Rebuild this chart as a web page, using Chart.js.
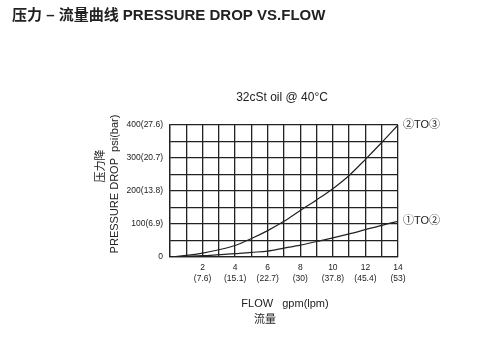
<!DOCTYPE html>
<html>
<head>
<meta charset="utf-8">
<script src="https://cdn.jsdelivr.net/npm/chart.js@4"></script>
<style>
html, body { margin: 0; padding: 0; background: #fff; }
#wrap { width: 488px; height: 354px; position: relative; }
</style>
</head>
<body>
<div id="wrap"><canvas id="myChart"></canvas></div>
<script>
// flow in gpm
var flowGpm = [0,1,2,3,4,5,6,7,8,9,10,11,12,13,14];
// pressure drop in psi
var psi2to3 = [0,5,12,22,35,56,80,108,141,173,207,247,296,347,400];
var psi1to2 = [0,2,4,7,10,14,18,27,36,47,58,70,83,96,108];
// tick labels
var xTickLpm = {2:"(7.6)", 4:"(15.1)", 6:"(22.7)", 8:"(30)", 10:"(37.8)", 12:"(45.4)", 14:"(53)"};
var yTickBar = {0:"", 100:"(6.9)", 200:"(13.8)", 300:"(20.7)", 400:"(27.6)"};
var seriesNames = ["\u2461TO\u2462", "\u2460TO\u2461"];

var FONT = "'Liberation Sans', Arial, 'Noto Sans CJK SC', sans-serif";
var INK = "#222";

function toPoints(ys) {
    var pts = [];
    for (var i = 0; i < flowGpm.length; i++) pts.push({x: flowGpm[i], y: ys[i]});
    return pts;
}

// all the loose text around the plot
var textPlugin = {
    id: 'texts',
    afterDraw: function(chart) {
        var c = chart.ctx;
        c.save();
        c.fillStyle = INK;
        c.textBaseline = 'middle';

        c.font = "bold 15px " + FONT;
        c.textAlign = 'left';
        c.fillText("压力 – 流量曲线 PRESSURE DROP VS.FLOW", 12, 16);

        c.font = "12px " + FONT;
        c.textAlign = 'center';
        c.fillText("32cSt oil @ 40°C", 282, 98);

        c.font = "11px " + FONT;
        c.fillText("FLOW   gpm(lpm)", 285, 304);
        c.fillText("流量", 265, 320);

        // y axis titles, rotated
        c.save();
        c.translate(101, 166);
        c.rotate(-Math.PI / 2);
        c.fillText("压力降", 0, 0);
        c.restore();
        c.save();
        c.translate(115, 184);
        c.rotate(-Math.PI / 2);
        c.fillText("PRESSURE DROP  psi(bar)", 0, 0);
        c.restore();

        // series names at the line ends
        c.textAlign = 'left';
        var sets = chart.data.datasets;
        for (var i = 0; i < sets.length; i++) {
            var meta = chart.getDatasetMeta(i);
            var last = meta.data[meta.data.length - 1];
            c.fillText(seriesNames[i], last.x + 5, last.y);
        }
        c.restore();
    }
};

var ctx = document.getElementById("myChart").getContext('2d');
var myChart = new Chart(ctx, {
    type: 'line',
    data: {
        datasets: [{
            data: toPoints(psi2to3),
            borderColor: "#222",
            borderWidth: 1.2,
            pointRadius: 0,
            cubicInterpolationMode: 'monotone',
            fill: false
        }, {
            data: toPoints(psi1to2),
            borderColor: "#222",
            borderWidth: 1.2,
            pointRadius: 0,
            cubicInterpolationMode: 'monotone',
            fill: false
        }]
    },
    options: {
        responsive: true,
        maintainAspectRatio: false,
        animation: false,
        layout: { padding: { left: 0, right: 90, top: 125, bottom: 57 } },
        plugins: { legend: { display: false }, tooltip: { enabled: false } },
        scales: {
            x: {
                type: 'linear',
                min: 0, max: 14,
                border: { color: INK, width: 1.3 },
                grid: { color: INK, lineWidth: 1.3, drawTicks: false },
                afterFit: function(s) { s.height = 40; },
                ticks: {
                    stepSize: 1,
                    padding: 5,
                    autoSkip: false,
                    maxRotation: 0,
                    color: INK,
                    font: { family: FONT, size: 8.5, lineHeight: 1.3 },
                    callback: function(v) {
                        if (v === 0 || v % 2 !== 0) return "";
                        return [String(v), xTickLpm[v]];
                    }
                }
            },
            y: {
                min: 0, max: 400,
                border: { color: INK, width: 1.3 },
                grid: { color: INK, lineWidth: 1.3, drawTicks: false },
                afterFit: function(s) { s.width = 170; },
                ticks: {
                    stepSize: 50,
                    padding: 7,
                    color: INK,
                    font: { family: FONT, size: 8.5 },
                    callback: function(v) {
                        if (v % 100 !== 0) return "";
                        if (v === 0) return "0";
                        return v + yTickBar[v];
                    }
                }
            }
        }
    },
    plugins: [textPlugin]
});
</script>
</body>
</html>
